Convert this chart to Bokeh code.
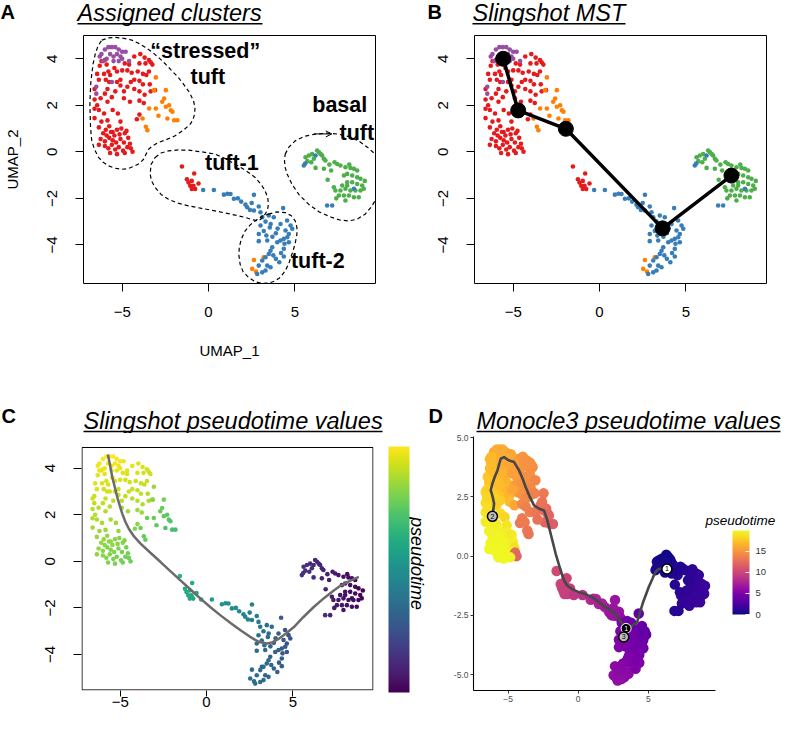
from bokeh.plotting import figure
from bokeh.layouts import row, column
from bokeh.models import (ColumnDataSource, Label, ColorBar, LinearColorMapper, FixedTicker, LinearAxis,
                          Arrow, OpenHead)
from bokeh.palettes import Viridis256, Plasma256
from bokeh.transform import transform
from bokeh.embed import file_html
from bokeh.resources import INLINE
from bokeh.core.properties import value

FONT = "Liberation Sans"

# ---------------- data: (UMAP_1, UMAP_2, slingshot pseudotime, monocle3 pseudotime) ----------------
RED_MAIN = [
    (-6.2, 3.9, 18.2, 16.9), (-4.3, 4.1, 18.1, 15.2), (-3.95, 4.2, 18.0, 15.0), (-3.7, 4.05, 17.8, 14.9),
    (-3.45, 3.95, 17.6, 14.8), (-3.35, 3.85, 17.5, 14.7), (-3.25, 3.75, 17.4, 14.6), (-4.0, 3.8, 17.8, 15.0),
    (-3.65, 3.8, 17.6, 14.8), (-6.0, 3.95, 18.3, 16.8), (-4.6, 3.75, 17.9, 15.4),
    (-6.45, 3.35, 18.0, 17.5), (-6.05, 3.35, 17.9, 17.3), (-5.8, 3.45, 17.9, 17.0), (-5.7, 3.3, 17.8, 17.0),
    (-5.3, 3.45, 17.8, 16.5), (-5.0, 3.5, 17.8, 16.2), (-4.7, 3.5, 17.7, 15.6), (-4.1, 3.45, 17.5, 15.0),
    (-3.8, 3.35, 17.3, 14.8), (-3.6, 3.3, 17.2, 14.6), (-3.45, 3.45, 17.3, 14.6),
    (-6.35, 3.1, 17.8, 17.6), (-5.95, 3.1, 17.7, 17.3), (-5.75, 3.0, 17.6, 17.2), (-5.3, 3.0, 17.5, 16.8),
    (-5.1, 3.1, 17.5, 16.5), (-4.5, 3.0, 17.3, 15.6), (-4.3, 3.1, 17.3, 15.2), (-4.0, 3.05, 17.2, 14.9),
    (-3.8, 2.9, 17.1, 14.7), (-3.4, 2.9, 16.9, 14.3),
    (-6.6, 2.7, 17.5, 18.2), (-5.85, 2.7, 17.3, 17.6), (-5.4, 2.6, 17.1, 17.3), (-4.9, 2.6, 17.0, 16.6),
    (-4.3, 2.7, 16.9, 15.3), (-4.0, 2.6, 16.8, 14.8), (-3.7, 2.45, 16.6, 14.3), (-3.35, 2.6, 16.6, 14.0),
    (-3.1, 2.65, 16.5, 13.8),
    (-6.6, 2.25, 17.0, 18.6), (-6.25, 2.3, 16.9, 18.4), (-5.85, 2.15, 16.7, 18.0), (-4.9, 2.3, 16.5, 17.0),
    (-4.55, 2.15, 16.3, 16.0), (-4.0, 2.2, 16.2, 14.2), (-3.75, 2.1, 16.0, 13.8),
    (-6.6, 1.85, 16.7, 19.0), (-6.35, 1.8, 16.6, 19.0), (-6.05, 1.65, 16.4, 19.1), (-5.55, 1.8, 16.3, 18.6),
    (-5.25, 1.65, 16.1, 18.2), (-4.0, 1.6, 15.6, 13.5),
    (-6.6, 1.45, 16.4, 19.3), (-6.2, 1.3, 16.2, 19.4), (-5.85, 1.35, 16.0, 19.3), (-5.1, 1.3, 15.8, 19.0),
    (-4.15, 1.4, 15.5, 13.2),
    (-6.35, 1.05, 16.0, 19.6), (-5.75, 1.1, 15.9, 19.5), (-5.55, 0.85, 15.7, 19.6), (-5.3, 0.95, 15.6, 19.5),
    (-5.05, 1.0, 15.5, 19.4), (-4.85, 0.8, 15.4, 19.3), (-6.1, 0.8, 15.8, 19.7), (-5.95, 0.95, 15.9, 19.6),
    (-5.45, 0.7, 15.6, 19.7), (-5.15, 0.75, 15.5, 19.6), (-4.75, 0.9, 15.3, 19.2), (-5.65, 0.85, 15.7, 19.6),
    (-6.25, 0.55, 15.8, 19.8), (-6.0, 0.45, 15.6, 19.8), (-5.75, 0.6, 15.5, 19.8), (-5.55, 0.5, 15.4, 19.8),
    (-5.35, 0.4, 15.3, 19.8), (-5.1, 0.55, 15.2, 19.7), (-4.9, 0.4, 15.1, 19.6), (-4.65, 0.6, 15.1, 19.3),
    (-5.9, 0.7, 15.7, 19.8), (-4.55, 0.35, 15.0, 18.8),
    (-6.0, 0.25, 15.5, 19.9), (-5.8, 0.15, 15.4, 19.9), (-5.6, 0.3, 15.3, 19.9), (-5.4, 0.1, 15.2, 19.9),
    (-5.2, 0.2, 15.1, 19.8), (-4.95, 0.05, 15.0, 19.8), (-4.7, 0.2, 14.9, 19.6), (-4.5, 0.15, 14.8, 12.5),
    (-4.4, 0.0, 14.7, 12.0), (-5.7, -0.05, 15.3, 19.9), (-5.3, -0.1, 15.1, 19.9), (-4.85, -0.05, 14.9, 19.8),
    (-6.35, 0.3, 15.7, 19.9),
    (-6.3, 3.7, 18.1, 17.1), (-5.9, 3.75, 18.1, 16.8), (-5.45, 3.6, 18.0, 16.6), (-4.85, 3.8, 18.0, 15.8),
    (-4.45, 3.4, 17.6, 15.4), (-5.1, 2.85, 17.4, 16.7), (-6.45, 2.0, 16.8, 18.8), (-4.7, 2.8, 17.1, 16.0),
    (-5.6, 2.35, 16.9, 17.8), (-6.0, 2.5, 17.2, 18.0),
]
RED_SMALL = [
    (-1.54, -0.63, 12.2, 10.3), (-0.83, -0.93, 11.7, 9.8), (-1.25, -1.18, 11.7, 9.9), (-1.16, -1.32, 11.6, 9.8),
    (-0.97, -1.25, 11.6, 9.7), (-0.87, -1.46, 11.4, 9.6), (-0.77, -1.6, 11.3, 9.5), (-0.97, -1.6, 11.4, 9.6),
    (-0.58, -1.36, 11.3, 9.4), (-1.06, -1.46, 11.5, 9.7), (-0.9, -1.5, 11.4, 9.6),
]
ORANGE = [
    (-3.05, 3.2, 16.0, 14.2), (-2.47, 2.65, 15.0, 13.3), (-2.57, 2.29, 14.6, 13.0), (-2.28, 2.0, 14.2, 12.5),
    (-2.18, 1.79, 13.9, 12.2), (-2.38, 1.43, 13.6, 12.0), (-1.99, 1.36, 13.4, 11.6), (-1.8, 1.36, 13.3, 11.5),
    (-3.44, 1.86, 14.8, 13.6), (-3.05, 1.86, 14.5, 13.2), (-3.63, 1.08, 14.4, 13.1), (-3.54, 0.93, 14.3, 13.0),
    (-3.82, 1.43, 14.8, 13.4), (-3.15, 2.65, 15.5, 13.8), (-2.68, 2.15, 14.6, 12.9), (-2.47, 1.94, 14.3, 12.6),
    (-2.09, 1.72, 13.8, 12.1), (-2.9, 1.55, 14.2, 12.8),
    (2.63, -4.65, 6.8, 5.8), (3.2, -4.53, 6.5, 5.5), (2.53, -5.03, 6.9, 6.0), (2.75, -5.15, 6.8, 6.0),
]
PURPLE = [
    (-6.0, 4.4, 18.8, 16.0), (-5.8, 4.5, 18.9, 16.1), (-5.6, 4.5, 18.9, 16.2), (-5.4, 4.5, 18.9, 16.3),
    (-5.2, 4.4, 18.8, 16.3), (-5.0, 4.3, 18.6, 16.0), (-4.8, 4.3, 18.5, 15.9), (-5.7, 4.2, 18.6, 16.2),
    (-5.5, 4.1, 18.5, 16.3), (-5.3, 4.2, 18.5, 16.2), (-5.1, 4.1, 18.4, 16.1), (-5.9, 4.0, 18.4, 16.6),
    (-6.1, 3.9, 18.3, 17.0), (-5.5, 3.9, 18.3, 16.3), (-5.2, 3.9, 18.2, 16.1), (-6.3, 4.1, 18.5, 16.9),
    (-4.6, 3.9, 18.0, 15.5), (-6.5, 2.8, 17.4, 17.9), (-6.5, 2.5, 17.1, 18.2), (-5.6, 3.0, 17.6, 17.1),
    (-6.2, 4.2, 18.6, 16.8), (-5.0, 4.0, 18.3, 16.0),
]
GREEN = [
    (5.62, -0.23, 2.7, 0.4), (5.81, -0.16, 2.6, 0.3), (6.0, -0.1, 2.4, 0.2), (6.29, 0.06, 2.2, 0.1),
    (6.4, -0.02, 2.1, 0.1), (6.5, -0.1, 2.0, 0.1), (6.58, -0.16, 1.9, 0.2), (6.68, -0.3, 1.9, 0.3),
    (6.77, -0.37, 1.8, 0.4), (5.72, -0.4, 2.7, 0.5), (6.2, -0.69, 2.3, 0.3), (6.68, -0.73, 1.9, 0.5),
    (7.45, -0.52, 1.3, 0.8), (7.64, -0.59, 1.1, 0.9), (7.93, -0.66, 0.9, 1.0), (8.22, -0.69, 0.6, 1.2),
    (8.42, -0.73, 0.5, 1.3), (8.61, -0.8, 0.3, 1.4), (8.03, -0.95, 0.8, 1.1), (8.32, -1.02, 0.6, 1.3),
    (8.61, -1.09, 0.4, 1.4), (8.8, -1.16, 0.2, 1.5), (7.84, -1.02, 1.0, 1.0), (8.03, -1.31, 0.9, 1.3),
    (8.32, -1.31, 0.7, 1.4), (8.61, -1.38, 0.5, 1.5), (8.9, -1.45, 0.3, 1.6), (8.99, -1.59, 0.2, 1.7),
    (8.8, -1.66, 0.4, 1.7), (8.51, -1.66, 0.6, 1.6), (8.22, -1.66, 0.8, 1.5), (7.93, -1.59, 1.0, 1.4),
    (7.64, -1.66, 1.2, 1.3), (7.35, -1.66, 1.4, 1.2), (7.55, -1.88, 1.3, 1.3), (7.84, -1.88, 1.1, 1.4),
    (8.13, -1.88, 0.9, 1.5), (8.42, -1.95, 0.8, 1.6), (7.93, -2.09, 1.1, 1.5), (7.4, -2.0, 1.4, 1.3),
    (7.74, -1.45, 1.1, 1.2), (8.03, -1.45, 0.9, 1.3), (7.26, -1.52, 1.5, 1.1), (7.3, -0.45, 1.4, 0.7),
    (7.1, -0.8, 1.6, 0.7), (6.9, -1.2, 1.8, 0.8), (7.0, -0.55, 1.7, 0.6), (8.15, -0.55, 0.7, 1.1),
    (8.7, -1.95, 0.6, 1.7), (9.05, -1.25, 0.0, 1.6), (6.1, -0.3, 2.3, 0.3), (5.95, -0.45, 2.5, 0.4),
]
BLUE = [
    (-0.31, -1.64, 10.9, 9.0), (0.31, -1.64, 10.4, 8.6), (0.89, -1.84, 9.8, 8.1), (1.1, -1.8, 9.6, 7.9),
    (1.27, -1.81, 9.5, 7.8), (1.47, -2.02, 9.2, 7.5), (1.89, -2.14, 8.9, 7.1), (2.14, -2.27, 8.6, 6.9),
    (2.63, -1.85, 8.3, 6.6), (2.24, -2.38, 8.5, 6.8), (2.5, -2.2, 8.3, 6.6), (2.91, -2.35, 8.0, 6.3),
    (3.01, -2.6, 7.8, 6.0), (2.63, -2.52, 8.1, 6.4), (2.4, -2.5, 8.3, 6.6), (1.7, -2.0, 9.1, 7.3),
    (3.11, -2.81, 7.4, 5.0), (3.49, -2.74, 7.0, 4.4), (3.78, -2.81, 6.6, 4.1), (4.32, -2.42, 5.4, 3.6),
    (3.3, -3.0, 7.0, 4.6), (3.01, -3.17, 7.0, 5.0), (3.6, -3.1, 6.5, 4.5), (2.91, -3.53, 6.7, 5.2),
    (3.2, -3.4, 6.5, 4.8), (2.91, -3.84, 6.7, 5.3), (3.4, -3.81, 6.3, 4.9), (4.17, -3.1, 5.5, 4.0),
    (4.46, -3.38, 5.2, 3.9), (4.75, -3.17, 4.8, 3.6), (4.85, -3.31, 4.6, 3.6), (4.65, -3.53, 5.0, 3.9),
    (4.56, -3.67, 5.2, 4.1), (4.36, -3.74, 5.4, 4.3), (4.17, -3.81, 5.6, 4.4), (3.98, -3.89, 5.8, 4.5),
    (4.65, -3.89, 5.1, 4.2), (4.4, -3.95, 5.4, 4.4), (4.36, -4.17, 5.5, 4.6), (3.69, -4.1, 6.1, 4.8),
    (3.59, -4.25, 6.2, 5.0), (3.49, -4.39, 6.3, 5.1), (3.75, -4.45, 6.1, 5.2), (4.36, -4.5, 5.6, 5.0),
    (3.3, -4.53, 6.5, 5.3), (3.11, -4.67, 6.7, 5.5), (2.91, -4.89, 6.8, 5.7), (3.4, -4.89, 6.4, 5.6),
    (3.59, -4.96, 6.3, 5.7), (3.3, -5.1, 6.5, 5.8), (3.11, -5.18, 6.7, 5.9), (2.82, -5.25, 6.9, 6.0),
    (4.1, -4.75, 5.8, 5.2), (3.9, -3.5, 6.0, 4.3), (3.7, -3.65, 6.2, 4.5), (4.0, -3.3, 5.9, 4.2),
    (3.35, -3.6, 6.6, 4.9), (4.55, -2.95, 5.1, 3.7), (3.9, -4.6, 5.9, 5.1), (3.55, -3.25, 6.4, 4.6),
    (4.2, -4.35, 5.6, 4.7),
    (5.52, -0.59, 2.8, 0.6), (5.6, -0.5, 2.7, 0.5), (6.2, -0.16, 2.2, 0.3), (6.87, -2.31, 2.3, 1.0),
    (7.16, -2.31, 2.0, 1.0), (8.42, -1.59, 0.6, 1.5),
]
CLUSTER_COLORS = {"red": "#E41A1C", "orange": "#FF7F00", "purple": "#984EA3",
                  "green": "#4DAF4A", "blue": "#377EB8"}

# Slingshot MST nodes (panel B)
MST_X = [-5.58, -4.71, -1.95, 3.65, 7.64]
MST_Y = [4.0, 1.78, 0.99, -3.29, -1.02]

# Slingshot principal curve (panel C)
CURVE_X = [-5.71, -5.58, -5.46, -5.3, -5.17, -5.02, -4.88, -4.7, -4.5, -4.2, -3.82, -3.25, -2.66, -2.08,
           -1.51, -0.93, -0.35, 0.23, 0.81, 1.39, 1.97, 2.5, 3.03, 3.51, 3.85, 4.19, 4.6, 5.06, 5.6,
           6.21, 6.8, 7.37, 7.75, 8.15, 8.5, 8.82]
CURVE_Y = [4.59, 4.1, 3.62, 3.15, 2.76, 2.38, 2.05, 1.7, 1.4, 1.07, 0.76, 0.37, -0.03, -0.43,
           -0.82, -1.21, -1.6, -1.97, -2.32, -2.65, -2.96, -3.23, -3.46, -3.53, -3.47, -3.32, -3.1, -2.82, -2.4,
           -1.96, -1.58, -1.25, -1.05, -0.89, -0.77, -0.67]

# Monocle3 trajectory graph (panel D)
TRAJ_X = [-6.12, -6.0, -6.1, -6.24, -6.12, -5.95, -5.76, -5.53, -5.29, -5.1, -4.93, -4.57, -4.22, -3.95,
          -3.75, -3.45, -3.15, -2.79, -2.44, -2.2, -1.9, -1.61, -1.3, -1.02, -0.78, -0.4, 0.05, 0.5, 1.0,
          1.5, 1.95, 2.3, 2.66, 2.9, 3.13, 3.37, 3.6, 3.84, 4.2, 4.6, 5.03, 5.3, 5.5, 5.74, 6.0, 6.33]
TRAJ_Y = [1.68, 2.21, 2.5, 2.78, 3.06, 3.35, 3.62, 4.11, 4.18, 4.1, 4.04, 3.97, 3.62, 3.25,
          2.92, 2.5, 2.14, 2.0, 1.93, 1.51, 0.8, 0.11, -0.5, -1.02, -1.24, -1.4, -1.52, -1.6, -1.73,
          -1.95, -2.15, -2.28, -2.43, -2.63, -2.86, -3.0, -3.02, -2.93, -2.79, -2.0, -1.31, -0.95, -0.68, -0.54, -0.52, -0.54]
ROOT_X, ROOT_Y, ROOT_LAB = [6.33], [-0.54], ["1"]
BRANCH_X, BRANCH_Y, BRANCH_LAB = [3.42], [-3.05], ["1"]
LEAF_X, LEAF_Y, LEAF_LAB = [3.25, -6.12], [-3.41, 1.68], ["3", "2"]

# hand-drawn cluster outlines (panel A)
STRESSED_OUT = [(-6.18, 4.8), (-5.8, 4.9), (-5.4, 4.92), (-4.9, 4.88), (-4.44, 4.8), (-4.0, 4.65), (-3.67, 4.49),
                (-3.25, 4.28), (-2.9, 4.06), (-2.5, 3.78), (-2.12, 3.48), (-1.75, 3.2), (-1.45, 2.91), (-1.1, 2.55),
                (-0.87, 2.19), (-0.78, 1.9), (-0.81, 1.62), (-0.9, 1.38), (-1.06, 1.19), (-1.45, 0.93), (-1.93, 0.69),
                (-2.45, 0.52), (-2.9, 0.4), (-3.25, 0.25), (-3.47, 0.11), (-3.62, -0.1), (-3.76, -0.32), (-4.0, -0.5),
                (-4.25, -0.6), (-4.65, -0.72), (-5.02, -0.75), (-5.45, -0.7), (-5.79, -0.6), (-6.1, -0.45),
                (-6.37, -0.24), (-6.6, 0.1), (-6.76, 0.47), (-6.83, 1.0), (-6.85, 1.48), (-6.87, 2.0), (-6.85, 2.48),
                (-6.82, 2.95), (-6.76, 3.34), (-6.68, 3.8), (-6.56, 4.2), (-6.4, 4.55), (-6.18, 4.8)]
TUFT1_OUT = [(-3.09, -0.24), (-2.75, -0.05), (-2.32, 0.04), (-1.75, 0.08), (-1.16, 0.07), (-0.4, 0.0), (0.39, -0.1),
             (1.0, -0.3), (1.54, -0.53), (2.15, -0.8), (2.7, -1.1), (3.05, -1.4), (3.28, -1.68), (3.43, -1.98),
             (3.47, -2.25), (3.42, -2.48), (3.28, -2.68), (3.1, -2.85), (2.9, -2.97), (2.55, -2.92), (2.12, -2.82),
             (1.3, -2.68), (0.39, -2.54), (-0.4, -2.43), (-1.16, -2.32), (-1.8, -2.2), (-2.32, -2.04), (-2.75, -1.83),
             (-3.09, -1.53), (-3.3, -1.25), (-3.38, -0.96), (-3.33, -0.55), (-3.09, -0.24)]
TUFT2_OUT = [(3.47, -2.68), (3.95, -2.58), (4.44, -2.61), (4.8, -2.75), (5.02, -2.97), (5.12, -3.25), (5.12, -3.54),
             (5.0, -4.0), (4.83, -4.4), (4.65, -4.8), (4.44, -5.12), (4.15, -5.4), (3.86, -5.55), (3.5, -5.64),
             (3.09, -5.66), (2.7, -5.58), (2.32, -5.4), (2.0, -5.15), (1.83, -4.83), (1.76, -4.45), (1.78, -4.11),
             (1.9, -3.75), (2.12, -3.4), (2.4, -3.15), (2.7, -2.97), (3.1, -2.77), (3.47, -2.68)]
BASAL_OUT = [(4.44, -0.1), (4.65, 0.2), (5.02, 0.47), (5.55, 0.67), (6.18, 0.76), (6.85, 0.8), (7.53, 0.76),
             (8.15, 0.65), (8.69, 0.47), (9.2, 0.2), (9.65, -0.1), (9.95, -0.5), (10.04, -0.96), (9.95, -1.5),
             (9.75, -1.96), (9.45, -2.35), (9.07, -2.68), (8.6, -2.9), (8.11, -2.97), (7.6, -2.93), (7.14, -2.82),
             (6.4, -2.58), (5.79, -2.25), (5.25, -1.85), (4.83, -1.39), (4.55, -0.95), (4.44, -0.67), (4.4, -0.4),
             (4.44, -0.1)]

R_XTICKS = [-5, 0, 5]
R_YTICKS = [-4, -2, 0, 2, 4]
D_XTICKS = [-5, 0, 5]
D_YTICKS = [-5.0, -2.5, 0.0, 2.5, 5.0]
D_LEG_TICKS = [0, 5, 10, 15]
C_BOX_TOP = 4.889   # upper edge of the R plot box in panel C

# ---------------- assemble the point table ----------------
groups = [(RED_MAIN, "red"), (RED_SMALL, "red"), (ORANGE, "orange"), (PURPLE, "purple"),
          (GREEN, "green"), (BLUE, "blue")]
xs, ys, sl, mo, cols = [], [], [], [], []
for pts, name in groups:
    for (x, y, s, m) in pts:
        xs.append(x); ys.append(y); sl.append(s); mo.append(m); cols.append(CLUSTER_COLORS[name])
src = ColumnDataSource(dict(x=xs, y=ys, sling=sl, mono=mo, color=cols))

XR = (-7.24, 9.67)
YR = (-5.66, 5.0)
YR_C = (-5.546, 5.361)
XR_D = (-7.47, 9.80)
YR_D = (-5.67, 5.05)


def minus(t):
    return str(t) if t >= 0 else "\u2212" + str(-t)


def r_fig(bl, br, bt, bb, fw, fh, yr, outline=True):
    p = figure(frame_width=fw, frame_height=fh, min_border_left=bl, min_border_right=br,
               min_border_top=bt, min_border_bottom=bb, x_range=XR, y_range=yr,
               output_backend="svg", toolbar_location=None)
    p.grid.visible = False
    p.outline_line_color = "black" if outline else None
    p.outline_line_width = 1
    p.outline_line_alpha = 1
    p.background_fill_color = "white"
    p.border_fill_color = "white"
    for ax in (p.xaxis[0], p.yaxis[0]):
        ax.axis_line_color = None
        ax.major_tick_line_color = "black"
        ax.major_tick_out = 8
        ax.major_tick_in = 0
        ax.minor_tick_line_color = None
        ax.major_label_text_font = FONT
        ax.major_label_text_font_size = "15px"
        ax.major_label_text_color = "black"
        ax.axis_label_text_font = FONT
        ax.axis_label_text_font_size = "15px"
        ax.axis_label_text_font_style = "normal"
        ax.axis_label_text_color = "black"
    p.xaxis.ticker = FixedTicker(ticks=R_XTICKS)
    p.xaxis.major_label_overrides = {t: minus(t) for t in R_XTICKS}
    p.xaxis.major_label_standoff = 15
    p.yaxis.ticker = FixedTicker(ticks=R_YTICKS)
    p.yaxis.major_label_overrides = {t: minus(t) for t in R_YTICKS}
    p.yaxis.major_label_orientation = "vertical"
    p.yaxis.major_label_standoff = 18
    return p


def lab(p, x, y, text, size, style="normal", align="left", baseline="alphabetic", angle=0.0):
    p.add_layout(Label(x=x, y=y, text=text, text_font=FONT, text_font_size=f"{size}px",
                       text_font_style=style, text_align=align, text_baseline=baseline,
                       angle=angle, text_color="black"))


def title_fig(w, h):
    # a strip whose data units are pixels, measured upward from its bottom edge
    p = figure(width=w, height=h, x_range=(0, w), y_range=(0, h), x_axis_type=None, y_axis_type=None,
               min_border=0, min_border_left=0, min_border_right=0, min_border_top=0,
               min_border_bottom=0, toolbar_location=None, output_backend="svg")
    p.outline_line_color = None
    p.background_fill_color = "white"
    p.border_fill_color = "white"
    return p


LETTER_SIZE = 20


def head(p, h, letter_x, letter_base, letter, title_x, title_base, title, ul_y, ul_x1):
    # positions are pixels from the top of the strip; texts are anchored on their middle
    p.text([letter_x], [h - (letter_base - 0.35 * LETTER_SIZE)], text=[letter], text_font=value(FONT),
           text_font_size=value(f"{LETTER_SIZE}px"), text_font_style=value("bold"), text_align=value("left"),
           text_baseline=value("middle"), text_color="black")
    p.text([title_x], [h - (title_base - 0.35 * 23.5)], text=[title], text_font=value(FONT),
           text_font_size=value("23.5px"), text_font_style=value("italic"), text_align=value("left"),
           text_baseline=value("middle"), text_color="black")
    p.segment([title_x], [h - ul_y], [ul_x1], [h - ul_y], line_color="black", line_width=1.6)


# ---------------- header strips ----------------
tA = title_fig(400, 34)
head(tA, 34, 0, 18, "A", 77, 20.7, "Assigned clusters", 23.3, 262)
tB = title_fig(381, 34)
head(tB, 34, 27, 18, "B", 72, 20.7, "Slingshot MST", 23.3, 225)
tC = title_fig(427, 53)
head(tC, 53, 1, 42, "C", 83, 48.5, "Slingshot pseudotime values", 51.0, 382)
tD = title_fig(354, 53)
head(tD, 53, 1, 42, "D", 49, 48.5, "Monocle3 pseudotime values", 51.0, 353)

# ---------------- Panel A ----------------
pA = r_fig(81, 27, 1, 97, 292, 248, YR)
pA.xaxis.axis_label = "UMAP_1"
pA.xaxis.axis_label_standoff = 22
pA.yaxis.axis_label = "UMAP_2"
pA.yaxis.axis_label_standoff = 24
pA.scatter("x", "y", source=src, size=4.6, fill_color="color", line_color=None)
for outline in (STRESSED_OUT, TUFT1_OUT, TUFT2_OUT, BASAL_OUT):
    pA.line([q[0] for q in outline], [q[1] for q in outline], line_color="black",
            line_width=1.2, line_dash="4 3")
lab(pA, -0.19, 4.33, "\u201cstressed\u201d", 21.5, style="bold", align="center", baseline="middle")
lab(pA, -0.04, 3.22, "tuft", 21.5, style="bold", align="center", baseline="middle")
lab(pA, 7.6, 2.02, "basal", 21.5, style="bold", align="center", baseline="middle")
pA.add_layout(Arrow(x_start=6.10, y_start=0.77, x_end=7.14, y_end=0.77, line_width=1, line_color="black",
                    end=OpenHead(size=6, line_width=1, line_color="black")))
lab(pA, 8.59, 0.81, "tuft", 21.5, style="bold", align="center", baseline="middle")
lab(pA, 1.35, -0.48, "tuft-1", 21.5, style="bold", align="center", baseline="middle")
lab(pA, 6.33, -4.69, "tuft-2", 21.5, style="bold", align="center", baseline="middle")

# ---------------- Panel B ----------------
pB = r_fig(72, 17, 1, 97, 292, 248, YR)
pB.scatter("x", "y", source=src, size=4.6, fill_color="color", line_color=None)
pB.line(MST_X, MST_Y, line_color="black", line_width=3.5)
pB.scatter(MST_X, MST_Y, size=15, fill_color="black", line_color="black")

# ---------------- Panel C ----------------
cmap_c = LinearColorMapper(palette=Viridis256, low=min(sl), high=max(sl))
pC = r_fig(81, 54, 3, 23, 292, 254, YR_C, outline=False)
pC.xaxis.major_tick_out = 6
pC.xaxis.major_label_standoff = 0
# R plot box (its top edge sits below the top of the frame)
pC.quad(left=[XR[0] + 0.03], right=[XR[1] - 0.03], bottom=[YR_C[0] + 0.025], top=[C_BOX_TOP],
        fill_color=None, line_color="black", line_width=1)
pC.scatter("x", "y", source=src, size=4.6, fill_color=transform("sling", cmap_c), line_color=None)
pC.line(CURVE_X, CURVE_Y, line_color="#6B6B6B", line_width=2.5)
cb_c = ColorBar(color_mapper=cmap_c, location=(307, -2), orientation="vertical", width=21, height=246,
                padding=0, margin=0, ticker=FixedTicker(ticks=[]), bar_line_color=None,
                background_fill_alpha=0, border_line_color=None)
pC.add_layout(cb_c)
rax = LinearAxis(axis_label="pseudotime", ticker=FixedTicker(ticks=[]), axis_line_color=None,
                 major_tick_line_color=None, minor_tick_line_color=None, major_label_standoff=0,
                 major_tick_out=0, major_tick_in=0, axis_label_standoff=33,
                 axis_label_text_font=FONT, axis_label_text_font_size="18px",
                 axis_label_text_font_style="italic", axis_label_text_color="black")
pC.add_layout(rax, "right")

# ---------------- Panel D ----------------
cmap_d = LinearColorMapper(palette=Plasma256, low=0, high=max(mo))
pD = figure(frame_width=242, frame_height=254, min_border_left=44, min_border_right=68,
            min_border_top=3, min_border_bottom=23, x_range=XR_D, y_range=YR_D,
            output_backend="svg", toolbar_location=None)
pD.grid.visible = False
pD.outline_line_color = None
pD.background_fill_color = "white"
pD.border_fill_color = "white"
for ax in (pD.xaxis[0], pD.yaxis[0]):
    ax.axis_line_color = "black"
    ax.axis_line_width = 1.1
    ax.major_tick_line_color = "#333333"
    ax.major_tick_out = 3
    ax.major_tick_in = 0
    ax.minor_tick_line_color = None
    ax.major_label_text_font = FONT
    ax.major_label_text_font_size = "8.5px"
    ax.major_label_text_color = "#4D4D4D"
    ax.major_label_standoff = 2
pD.xaxis.ticker = FixedTicker(ticks=D_XTICKS)
pD.yaxis.ticker = FixedTicker(ticks=D_YTICKS)
pD.yaxis.major_label_overrides = {t: f"{t:.1f}" for t in D_YTICKS}
pD.scatter("x", "y", source=src, size=10.5, fill_color=transform("mono", cmap_d), line_color=None)
pD.line(TRAJ_X, TRAJ_Y, line_color="#474747", line_width=2.6)
pD.scatter(ROOT_X, ROOT_Y, size=10, fill_color="white", line_color="black", line_width=1.5)
pD.scatter(BRANCH_X, BRANCH_Y, size=10, fill_color="black", line_color="white", line_width=1)
pD.scatter(LEAF_X, LEAF_Y, size=10, fill_color="#BEBEBE", line_color="black", line_width=1.5)
for nx, ny, nl, nc in ((ROOT_X, ROOT_Y, ROOT_LAB, "black"), (BRANCH_X, BRANCH_Y, BRANCH_LAB, "white"),
                       (LEAF_X, LEAF_Y, LEAF_LAB, "black")):
    pD.text(nx, ny, text=nl, text_font=value(FONT), text_font_size=value("7px"),
            text_align=value("center"), text_baseline=value("middle"), text_color=nc)
cb_d = ColorBar(color_mapper=cmap_d, location=(259, 76), orientation="vertical", width=17, height=84,
                padding=0, margin=0, ticker=FixedTicker(ticks=D_LEG_TICKS), bar_line_color=None,
                major_label_text_font=FONT, major_label_text_font_size="9.5px",
                major_label_text_color="#333333", label_standoff=6,
                major_tick_line_color="white", major_tick_in=4, major_tick_out=0,
                background_fill_alpha=0, border_line_color=None)
pD.add_layout(cb_d)
# legend title, set left of the bar as in the ggplot guide (an invisible horizontal bar carries it)
cb_title = ColorBar(color_mapper=cmap_d, location=(232, 162), orientation="horizontal", width=72, height=1,
                    padding=0, margin=0, ticker=FixedTicker(ticks=[]), bar_line_color=None, scale_alpha=0,
                    title="pseudotime", title_text_font=FONT, title_text_font_size="13.5px",
                    title_text_font_style="italic", title_text_color="black", title_standoff=0,
                    background_fill_alpha=0, border_line_color=None)
pD.add_layout(cb_title)

layout = column(row(tA, tB), row(pA, pB), row(tC, tD), row(pC, pD))
open("out.html", "w").write(file_html(layout, INLINE))
